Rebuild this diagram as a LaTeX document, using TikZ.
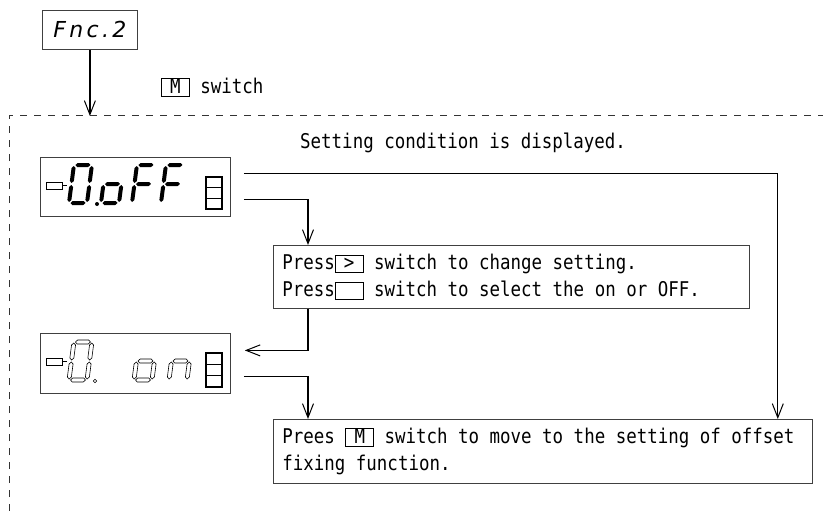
\documentclass[tikz,border=0pt]{standalone}
\usepackage{fontspec}
\setmonofont[FakeStretch=0.86]{DejaVu Sans Mono}
\newfontfamily\fncfont[LetterSpace=15]{DejaVu Sans}
\usetikzlibrary{arrows.meta, calc, positioning}
\tikzset{
panel/.style={
	draw=black!75,
	line width=0.8pt,
	anchor=north west,
	inner sep=0pt,
	minimum width=190pt,
	minimum height=59pt,
},
note/.style={
	draw=black!75,
	line width=0.8pt,
	anchor=north west,
	align=left,
	inner xsep=9pt,
	inner ysep=0pt,
	font=\ttfamily\fontsize{20.3}{27}\selectfont,
},
connection/.style={
	line width=1.3pt,
	-{Straight Barb[length=14pt,width=11pt,line width=1pt]},
},
label/.style={
	font=\ttfamily\fontsize{20.3}{22}\selectfont,
	inner sep=0pt,
},
frame/.style={
	line width=1pt,
	black!80,
	dash pattern=on 7pt off 7pt,
},
lit/.style={
	fill=black,
},
blink/.style={
	draw=black,
	line width=0.6pt,
},
}
% full spaces of the mono font
\newcommand{\monosp}{\spaceskip=0pt\xspaceskip=0pt\relax}
% key in a frame
\newcommand{\swkey}[1]{{\setlength{\fboxsep}{0pt}\setlength{\fboxrule}{0.8pt}%
	\fbox{\makebox[27pt]{\rule[-2.5pt]{0pt}{16pt}#1}}}}
% segments of a digit
\newcommand{\hseg}[3]{(#1,#2) -- ++(2,2) -- ++(#3-4,0) -- ++(2,-2) -- ++(-2,-2) -- ++(-#3+4,0) -- cycle}
\newcommand{\vseg}[3]{(#1,#2) -- ++(2,2) -- ++(0,#3-4) -- ++(-2,2) -- ++(-2,-2) -- ++(0,-#3+4) -- cycle}
\def\segA{\hseg{1.5}{38}{15}}
\def\segG{\hseg{1.5}{19}{15}}
\def\segD{\hseg{1.5}{0}{15}}
\def\segF{\vseg{0}{20}{17}}
\def\segE{\vseg{0}{1}{17}}
\def\segB{\vseg{18}{20}{17}}
\def\segC{\vseg{18}{1}{17}}
\newcommand{\sevenseg}[3]{%
	\begin{scope}[shift={(#2)}, x=1pt, y=1pt, xslant=0.13]
		\foreach \s in {#3} {\path[#1] \csname seg\s\endcsname;}
	\end{scope}}

\begin{document}
\begin{tikzpicture}[x=1pt, y=-1pt]
		\useasboundingbox (0,0) rectangle (823,511);
		% Function display
		\node[draw=black!75, line width=0.8pt, anchor=north west, minimum width=95pt,
			minimum height=39pt, font=\fncfont\itshape\fontsize{22}{22}\selectfont] (fnc) at (42,10) {Fnc.2};
		\node[label, anchor=west] (msw) at (161,87) {\swkey{M} switch};
		
		% Frame
		\coordinate (fr) at (9,116);
		\draw[frame] (fr |- 0,511) -- (fr) -- (823,116);
		\draw[connection] (fnc) -- (fnc |- fr);
		
		\node[label, anchor=west] (cond) at (300,143) {Setting condition is displayed.};
		
		% Display 1
		\node[panel] (disp1) at (40,157) {};
		\draw[line width=0.9pt] (46,182) rectangle (62,189) (62,185.5) -- (67,185.5);
		\sevenseg{lit}{69,203}{A,B,C,D,E,F}
		\fill (97,204) circle (2pt);
		\sevenseg{lit}{101,203}{C,D,E,G}
		\sevenseg{lit}{132,203}{A,E,F,G}
		\sevenseg{lit}{161,203}{A,E,F,G}
		\draw[line width=1.2pt] (206,177) rectangle (222,209)
			(206,187.7) -- (222,187.7) (206,198.3) -- (222,198.3);
		
		% Display 2
		\node[panel, minimum height=60pt] (disp2) at (40,333) {};
		\draw[line width=0.9pt] (46,358) rectangle (62,365) (62,361.5) -- (67,361.5);
		\sevenseg{blink}{69,380}{A,B,C,D,E,F}
		\draw[blink] (95,381) circle (1.8pt);
		\sevenseg{blink}{134,380}{C,D,E,G}
		\sevenseg{blink}{169,380}{C,E,G}
		\draw[line width=1.2pt] (206,353) rectangle (222,387)
			(206,364.3) -- (222,364.3) (206,375.7) -- (222,375.7);
		
		% Notes
		\node[note, text width=458pt, minimum height=63pt] (press) at (273,245)
			{\monosp Press\swkey{>} switch to change setting.\\Press\swkey{} switch to select the on or OFF.};
		\node[note, text width=521pt, minimum height=64pt] (prees) at (273,419)
			{\monosp Prees \swkey{M} switch to move to the setting of offset\\fixing function.};
		
		% Connections
		\draw[connection] ([xshift=13pt, yshift=13.5pt]disp1.east) -| ([xshift=-35pt]prees.north east);
		\draw[connection] ([xshift=13pt, yshift=-12.5pt]disp1.east) -| ([xshift=35pt]press.north west);
		\draw[connection] ([xshift=35pt]press.south west) |- ([xshift=14pt, yshift=13pt]disp2.east);
		\draw[connection] ([xshift=13pt, yshift=-13pt]disp2.east) -| ([xshift=35pt]prees.north west);
\end{tikzpicture}
\end{document}
